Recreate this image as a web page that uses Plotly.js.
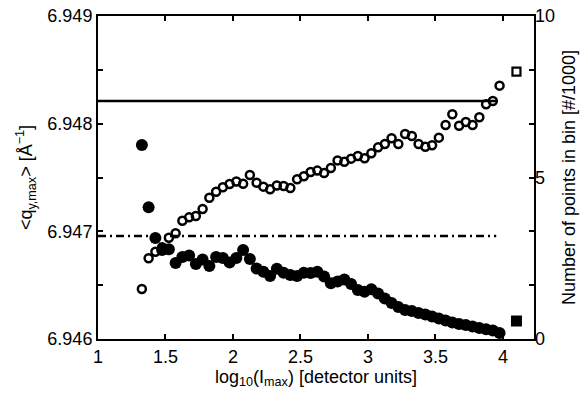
<!DOCTYPE html>
<html>
<head>
<meta charset="utf-8">
<script src="https://cdn.plot.ly/plotly-3.0.1.min.js"></script>
<style>
  body { margin: 0; background: #fff; }
  #myDiv { width: 581px; height: 399px; }
</style>
</head>
<body>
<div id="myDiv"></div>
<script>
// log10(Imax) bin centres
let logI = [1.325, 1.375, 1.425, 1.475, 1.525, 1.575, 1.625, 1.675, 1.725, 1.775,
            1.825, 1.875, 1.925, 1.975, 2.025, 2.075, 2.125, 2.175, 2.225, 2.275,
            2.325, 2.375, 2.425, 2.475, 2.525, 2.575, 2.625, 2.675, 2.725, 2.775,
            2.825, 2.875, 2.925, 2.975, 3.025, 3.075, 3.125, 3.175, 3.225, 3.275,
            3.325, 3.375, 3.425, 3.475, 3.525, 3.575, 3.625, 3.675, 3.725, 3.775,
            3.825, 3.875, 3.925, 3.975];

// <q_y,max> per bin (left axis)
let qMean = [6.946464, 6.946750, 6.946811, 6.946852, 6.946941, 6.946982, 6.947099, 6.947130, 6.947142, 6.947207,
             6.947312, 6.947368, 6.947409, 6.947440, 6.947463, 6.947442, 6.947523, 6.947452, 6.947415, 6.947390,
             6.947426, 6.947421, 6.947402, 6.947484, 6.947511, 6.947551, 6.947564, 6.947542, 6.947588, 6.947659,
             6.947647, 6.947675, 6.947700, 6.947678, 6.947725, 6.947780, 6.947811, 6.947864, 6.947811, 6.947904,
             6.947885, 6.947811, 6.947786, 6.947799, 6.947870, 6.947988, 6.948087, 6.947980, 6.948015, 6.947988,
             6.948059, 6.948181, 6.948211, 6.948353];

// number of points in bin [#/1000] (right axis)
let nPoints = [6.006, 4.077, 3.127, 2.755, 2.777, 2.353, 2.539, 2.585, 2.322, 2.461,
               2.260, 2.539, 2.508, 2.368, 2.508, 2.755, 2.477, 2.183, 2.084, 1.950,
               2.173, 2.053, 1.981, 1.950, 2.053, 2.043, 2.084, 1.935, 1.724, 1.780,
               1.842, 1.703, 1.517, 1.464, 1.539, 1.409, 1.254, 1.115, 0.991, 0.898,
               0.867, 0.805, 0.759, 0.697, 0.635, 0.573, 0.511, 0.464, 0.433, 0.387,
               0.341, 0.300, 0.263, 0.186];

// reference levels
let lineX = [1, 3.95];
let qSolid = 6.94821;
let qDashDot = 6.946957;

// axis markers
let squareX = [4.1];
let squareOpen = [8.28];
let squareFilled = [0.557];

let leftTicks = [6.946, 6.947, 6.948, 6.949];
let leftMinor = [6.9465, 6.9475, 6.9485];
let rightTicks = [0, 5, 10];
let xTicks = [1, 1.5, 2, 2.5, 3, 3.5, 4];

let font = {family: 'Liberation Sans, Arial, sans-serif', size: 18, color: '#000'};

let traces = [
    {
        x: lineX, y: [qSolid, qSolid],
        mode: 'lines', type: 'scatter',
        line: {color: '#000', width: 2.5},
        hoverinfo: 'skip'
    },
    {
        x: lineX, y: [qDashDot, qDashDot],
        mode: 'lines', type: 'scatter',
        line: {color: '#000', width: 2.5, dash: '8px,4px,2px,4px'},
        hoverinfo: 'skip'
    },
    {
        x: logI, y: nPoints, yaxis: 'y2',
        mode: 'markers', type: 'scatter',
        marker: {symbol: 'circle', size: 12, color: '#000'}
    },
    {
        x: logI, y: qMean,
        mode: 'markers', type: 'scatter',
        marker: {symbol: 'circle-open', size: 8, color: '#000', line: {width: 2.5}}
    },
    {
        x: squareX, y: squareOpen, yaxis: 'y2',
        mode: 'markers', type: 'scatter',
        marker: {symbol: 'square-open', size: 8, color: '#000', line: {width: 2.2}}
    },
    {
        x: squareX, y: squareFilled, yaxis: 'y2',
        mode: 'markers', type: 'scatter',
        marker: {symbol: 'square', size: 11, color: '#000'}
    }
];

let tickStyle = {ticks: 'inside', ticklen: 5, tickwidth: 2, tickcolor: '#000'};

let layout = {
    width: 581,
    height: 399,
    margin: {l: 98, r: 47, t: 16, b: 60},
    showlegend: false,
    paper_bgcolor: '#fff',
    plot_bgcolor: '#fff',
    font: font,
    xaxis: Object.assign({
        range: [1, 4.23],
        tickvals: xTicks,
        showline: true, linewidth: 2, linecolor: '#000', mirror: 'ticks',
        showgrid: false, zeroline: false,
        tickfont: font,
        title: {text: 'log<sub>10</sub>(I<sub>max</sub>) [detector units]', font: font, standoff: 4}
    }, tickStyle),
    yaxis: Object.assign({
        range: [6.946, 6.949],
        tickvals: leftTicks,
        ticktext: ['6.946', '6.947', '6.948', '6.949'],
        minor: {tickvals: leftMinor, ticks: 'inside', ticklen: 5, tickwidth: 2, tickcolor: '#000', showgrid: false},
        showline: true, linewidth: 2, linecolor: '#000', mirror: 'ticks',
        showgrid: false, zeroline: false,
        tickfont: font,
        title: {text: '&lt;q<sub>y,max</sub>&gt; [Å<sup>−1</sup>]', font: font, standoff: 10}
    }, tickStyle),
    yaxis2: Object.assign({
        range: [0, 10],
        overlaying: 'y', side: 'right',
        tickvals: rightTicks,
        showline: false, showgrid: false, zeroline: false,
        tickfont: font,
        title: {text: 'Number of points in bin [#/1000]', font: font, standoff: 8}
    }, tickStyle)
};

Plotly.newPlot('myDiv', traces, layout, {displayModeBar: false, staticPlot: true});
</script>
</body>
</html>
